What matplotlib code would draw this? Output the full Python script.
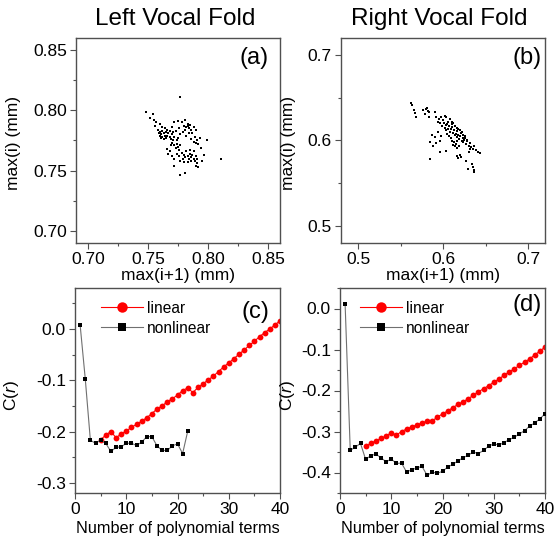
import numpy as np
import matplotlib
matplotlib.use("Agg")
import matplotlib.pyplot as plt
from matplotlib.ticker import MultipleLocator, FormatStrFormatter

plt.rcParams['font.family'] = ['Liberation Sans', 'DejaVu Sans']
plt.rcParams['axes.unicode_minus'] = False
plt.rcParams['mathtext.fontset'] = 'custom'
plt.rcParams['mathtext.rm'] = 'Liberation Sans'
plt.rcParams['mathtext.it'] = 'Liberation Sans:italic'

# return map of successive maxima, left fold: (max(i+1), max(i))
left_pts = [
    (0.748, 0.799), (0.754, 0.797), (0.752, 0.794), (0.755, 0.792), (0.757, 0.790),
    (0.756, 0.787), (0.760, 0.789), (0.762, 0.786), (0.758, 0.784),
    (0.760, 0.782), (0.761, 0.780), (0.762, 0.783), (0.763, 0.781), (0.764, 0.779),
    (0.762, 0.778), (0.765, 0.782), (0.766, 0.784), (0.764, 0.785), (0.761, 0.777),
    (0.763, 0.776), (0.766, 0.779), (0.767, 0.781), (0.768, 0.783), (0.765, 0.777),
    (0.760, 0.779), (0.759, 0.781), (0.768, 0.778), (0.770, 0.780), (0.769, 0.776),
    (0.771, 0.782), (0.772, 0.778),
    (0.770, 0.773), (0.772, 0.771), (0.774, 0.772), (0.773, 0.769), (0.775, 0.770),
    (0.776, 0.767), (0.771, 0.775), (0.774, 0.775), (0.777, 0.771),
    (0.772, 0.790), (0.775, 0.791), (0.778, 0.790), (0.781, 0.792), (0.783, 0.789),
    (0.780, 0.787), (0.782, 0.786), (0.784, 0.785), (0.783, 0.787), (0.785, 0.788),
    (0.781, 0.784), (0.786, 0.784), (0.779, 0.782), (0.784, 0.781), (0.787, 0.781),
    (0.788, 0.786), (0.790, 0.784), (0.782, 0.779), (0.776, 0.785), (0.777, 0.780),
    (0.789, 0.778), (0.791, 0.775), (0.790, 0.773), (0.793, 0.777), (0.792, 0.772),
    (0.788, 0.774), (0.786, 0.776),
    (0.799, 0.775), (0.797, 0.763), (0.811, 0.760), (0.794, 0.769), (0.795, 0.758),
    (0.777, 0.811),
    (0.778, 0.765), (0.780, 0.763), (0.782, 0.766), (0.783, 0.762), (0.785, 0.764),
    (0.786, 0.761), (0.787, 0.763), (0.784, 0.760), (0.781, 0.761), (0.779, 0.760),
    (0.788, 0.760), (0.789, 0.758), (0.790, 0.762), (0.786, 0.758), (0.791, 0.756),
    (0.790, 0.754), (0.792, 0.753), (0.785, 0.767), (0.788, 0.766), (0.776, 0.762),
    (0.774, 0.764), (0.777, 0.758), (0.780, 0.757), (0.783, 0.757), (0.791, 0.760),
    (0.768, 0.766), (0.767, 0.764), (0.770, 0.762), (0.766, 0.768), (0.772, 0.760),
    (0.772, 0.754), (0.777, 0.746), (0.781, 0.748), (0.769, 0.771), (0.775, 0.777),
    (0.773, 0.783), (0.770, 0.786),
]

# right fold
right_pts = [
    (0.562, 0.644), (0.564, 0.641), (0.566, 0.636), (0.568, 0.628), (0.567, 0.632),
    (0.577, 0.636), (0.580, 0.637), (0.582, 0.635), (0.583, 0.633), (0.579, 0.631),
    (0.584, 0.628), (0.581, 0.638),
    (0.590, 0.633), (0.592, 0.628), (0.595, 0.625), (0.594, 0.622), (0.597, 0.620),
    (0.598, 0.627), (0.600, 0.624), (0.601, 0.621), (0.603, 0.618), (0.599, 0.617),
    (0.602, 0.615), (0.604, 0.612), (0.606, 0.614), (0.605, 0.619), (0.607, 0.617),
    (0.608, 0.610), (0.609, 0.613), (0.610, 0.616), (0.611, 0.619), (0.612, 0.609),
    (0.613, 0.612), (0.614, 0.606), (0.615, 0.608), (0.616, 0.611), (0.617, 0.604),
    (0.618, 0.607), (0.619, 0.602), (0.620, 0.605), (0.621, 0.609), (0.622, 0.600),
    (0.623, 0.603), (0.624, 0.598), (0.625, 0.601), (0.626, 0.605), (0.627, 0.596),
    (0.628, 0.599), (0.630, 0.594), (0.632, 0.597), (0.633, 0.592), (0.635, 0.590),
    (0.637, 0.593), (0.639, 0.589), (0.641, 0.587), (0.643, 0.585), (0.606, 0.622),
    (0.604, 0.627), (0.602, 0.629), (0.608, 0.625), (0.610, 0.622), (0.612, 0.620),
    (0.614, 0.617), (0.616, 0.615), (0.618, 0.613), (0.611, 0.600), (0.613, 0.598),
    (0.615, 0.596), (0.617, 0.599), (0.612, 0.595), (0.614, 0.593), (0.616, 0.591),
    (0.619, 0.594), (0.609, 0.603), (0.607, 0.605), (0.605, 0.608), (0.620, 0.612),
    (0.622, 0.610), (0.624, 0.607), (0.626, 0.603), (0.628, 0.601),
    (0.587, 0.607), (0.590, 0.604), (0.585, 0.598), (0.592, 0.597), (0.588, 0.593),
    (0.596, 0.600), (0.598, 0.605), (0.594, 0.610), (0.597, 0.586), (0.585, 0.578),
    (0.603, 0.588),
    (0.617, 0.582), (0.618, 0.580), (0.620, 0.583), (0.621, 0.581), (0.627, 0.576),
    (0.629, 0.567), (0.635, 0.569), (0.636, 0.566), (0.637, 0.563), (0.634, 0.572),
    (0.630, 0.586), (0.632, 0.590),
]

# prediction error C(r) vs number of polynomial terms
left_nl_terms = list(range(1, 23))
left_nl = [0.008, -0.097, -0.217, -0.223, -0.217, -0.223, -0.239, -0.231, -0.230, -0.223,
           -0.223, -0.227, -0.221, -0.210, -0.210, -0.228, -0.237, -0.237, -0.228, -0.224,
           -0.243, -0.199]
left_lin_terms = list(range(5, 41))
left_lin = [-0.216, -0.207, -0.200, -0.212, -0.205, -0.199, -0.192, -0.186, -0.180, -0.173,
            -0.165, -0.156, -0.150, -0.142, -0.136, -0.129, -0.120, -0.115, -0.124, -0.114,
            -0.107, -0.099, -0.092, -0.083, -0.074, -0.066, -0.058, -0.049, -0.041, -0.032,
            -0.024, -0.015, -0.007, 0.000, 0.008, 0.016]

right_nl_terms = list(range(1, 41))
right_nl = [0.010, -0.346, -0.338, -0.329, -0.368, -0.359, -0.355, -0.364, -0.374, -0.367,
            -0.378, -0.377, -0.399, -0.393, -0.389, -0.385, -0.407, -0.399, -0.402, -0.397,
            -0.387, -0.380, -0.372, -0.364, -0.358, -0.350, -0.354, -0.346, -0.336, -0.330,
            -0.333, -0.327, -0.320, -0.314, -0.306, -0.298, -0.287, -0.279, -0.269, -0.257]
right_lin_terms = list(range(5, 41))
right_lin = [-0.336, -0.329, -0.323, -0.317, -0.311, -0.303, -0.309, -0.300, -0.294, -0.289,
             -0.284, -0.279, -0.275, -0.274, -0.265, -0.257, -0.250, -0.242, -0.234, -0.228,
             -0.220, -0.212, -0.203, -0.196, -0.188, -0.180, -0.172, -0.163, -0.155, -0.147,
             -0.139, -0.131, -0.123, -0.113, -0.104, -0.094]

W, H = 555, 539
fig = plt.figure(figsize=(W / 100, H / 100), dpi=100)

def box(l, t, r, b):
    return [l / W, 1 - b / H, (r - l) / W, (b - t) / H]

ax_a = fig.add_axes(box(76, 38, 280, 243))
ax_b = fig.add_axes(box(341, 38, 545, 243))
ax_c = fig.add_axes(box(75, 288, 280, 493))
ax_d = fig.add_axes(box(340, 288, 545, 493))

spine_col = '#505050'
for ax in (ax_a, ax_b, ax_c, ax_d):
    for s in ax.spines.values():
        s.set_color(spine_col)
        s.set_linewidth(1.0)
    ax.tick_params(which='both', direction='out', top=False, right=False,
                   labelsize=12.5, color=spine_col, width=0.8, pad=2.5)
    ax.tick_params(which='major', length=4)
    ax.tick_params(which='minor', length=2.5)

# scatter panels
for ax, pts, lims, major, fmt, tag, tag_x, ylab_x in (
        (ax_a, left_pts, (0.69, 0.86), 0.05, '%.2f', '(a)', 0.945, -0.27),
        (ax_b, right_pts, (0.48, 0.72), 0.1, '%.1f', '(b)', 0.985, -0.22)):
    xs = [p[0] for p in pts]
    ys = [p[1] for p in pts]
    ax.plot(xs, ys, 's', ms=2.1, color='black', mew=0)
    ax.set_xlim(*lims)
    ax.set_ylim(*lims)
    for axis in (ax.xaxis, ax.yaxis):
        axis.set_major_locator(MultipleLocator(major))
        axis.set_minor_locator(MultipleLocator(major / 2))
        axis.set_major_formatter(FormatStrFormatter(fmt))
    ax.set_xlabel('max(i+1) (mm)', fontsize=12.5, labelpad=1)
    ax.set_ylabel('max(i) (mm)', fontsize=12.5)
    ax.yaxis.set_label_coords(ylab_x, 0.49)
    ax.text(tag_x, 0.90, tag, transform=ax.transAxes, ha='right', va='center', fontsize=17)

# C(r) panels
for ax, nl_n, nl, lin_n, lin, ylim, tag, tag_pos, ylab_x, leg_x in (
        (ax_c, left_nl_terms, left_nl, left_lin_terms, left_lin, (-0.32, 0.08), '(c)',
         (0.95, 0.883), -0.263, 0.105),
        (ax_d, right_nl_terms, right_nl, right_lin_terms, right_lin, (-0.45, 0.05), '(d)',
         (0.985, 0.917), -0.21, 0.075)):
    ax.plot(lin_n, lin, '-o', color='red', lw=0.8, ms=4.2, mew=0, label='linear', zorder=2)
    ax.plot(nl_n, nl, '-s', color='#707070', lw=0.8, ms=3.4, mfc='black', mec='black',
            mew=0, label='nonlinear', zorder=3)
    ax.set_xlim(0, 40)
    ax.set_ylim(*ylim)
    ax.xaxis.set_major_locator(MultipleLocator(10))
    ax.xaxis.set_minor_locator(MultipleLocator(5))
    ax.yaxis.set_major_locator(MultipleLocator(0.1))
    ax.yaxis.set_minor_locator(MultipleLocator(0.05))
    ax.yaxis.set_major_formatter(FormatStrFormatter('%.1f'))
    ax.set_xlabel('Number of polynomial terms', fontsize=11.7, labelpad=3)
    ax.set_ylabel(r'C($\mathit{r}$)', fontsize=12.5)
    ax.yaxis.set_label_coords(ylab_x, 0.475)
    ax.text(tag_pos[0], tag_pos[1], tag, transform=ax.transAxes, ha='right', va='center',
            fontsize=17)
    leg = ax.legend(loc='upper left', bbox_to_anchor=(leg_x, 0.96), frameon=False,
                    fontsize=11.2, handlelength=2.7, handletextpad=0.25,
                    labelspacing=0.3, borderpad=0.3, borderaxespad=0.0)
    leg.legend_handles[0].set_markersize(7.5)
    leg.legend_handles[1].set_markersize(5.5)

fig.text(175 / W, 1 - 19 / H, 'Left Vocal Fold', ha='center', va='center', fontsize=17.5)
fig.text(439 / W, 1 - 19 / H, 'Right Vocal Fold', ha='center', va='center', fontsize=17.5)

fig.savefig('out.png', dpi=100)
